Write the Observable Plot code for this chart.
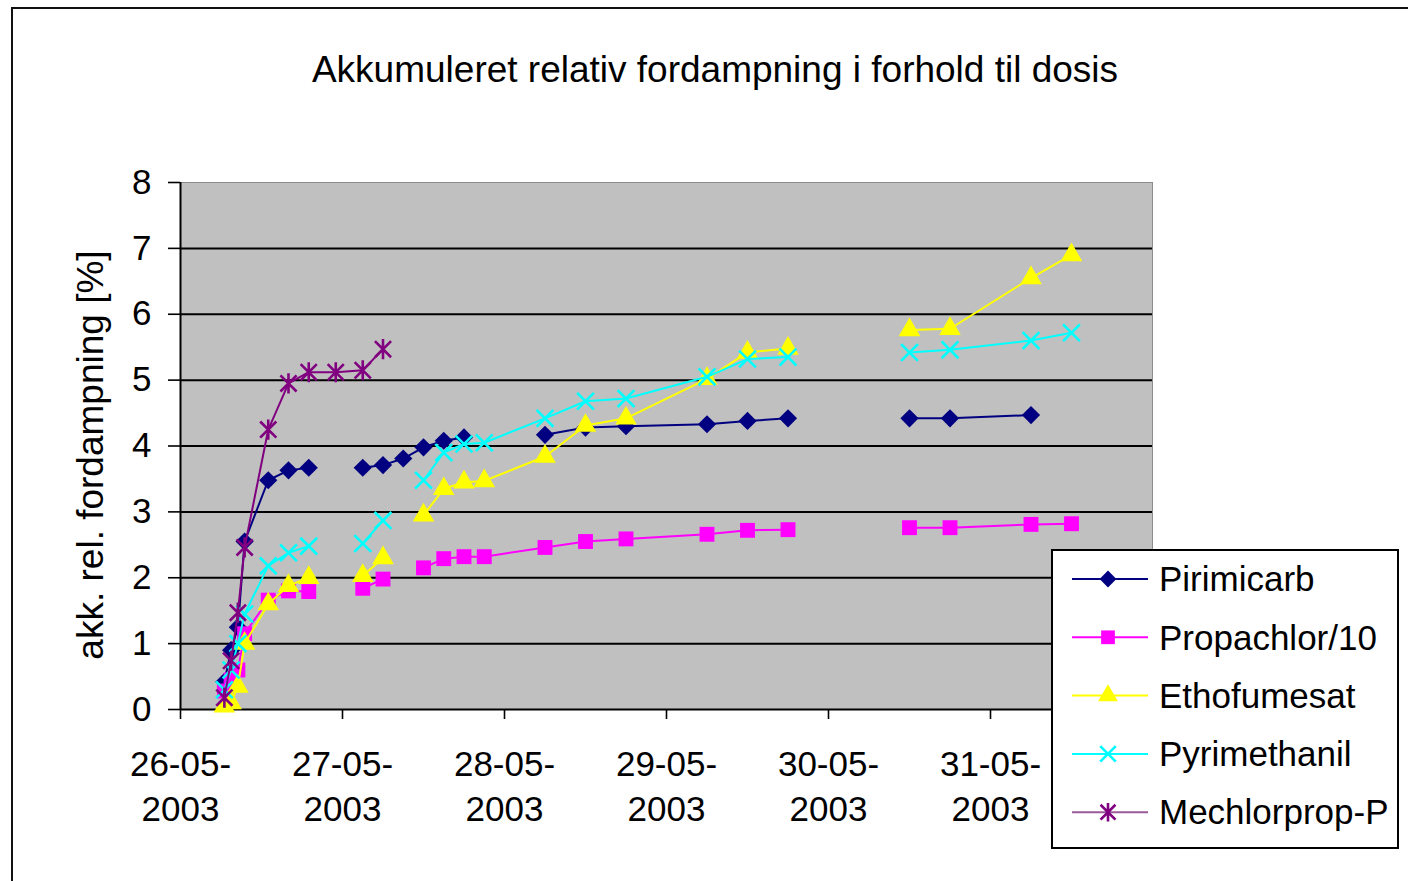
<!DOCTYPE html>
<html>
<head>
<meta charset="utf-8">
<script src="https://cdn.jsdelivr.net/npm/d3@7"></script>
<script src="https://cdn.jsdelivr.net/npm/@observablehq/plot@0.6"></script>
<style>
html,body{margin:0;padding:0;background:#fff;overflow:hidden;}
body{width:1408px;height:881px;position:relative;font-family:"Liberation Sans",Arial,sans-serif;color:#000;}
#border{position:absolute;left:11px;top:7px;width:1420px;height:900px;border:2px solid #111;box-sizing:border-box;}
#chart{position:absolute;left:0;top:0;}
#title{position:absolute;left:0;width:1430px;top:51px;text-align:center;font-size:37px;line-height:1;white-space:nowrap;}
#ylabel{position:absolute;left:90px;top:455px;transform:translate(-50%,-50%) rotate(-90deg);font-size:37px;line-height:1;white-space:nowrap;}
#legend{position:absolute;left:1051px;top:549px;}
</style>
</head>
<body>
<div id="border"></div>
<div id="chart"></div>
<div id="title">Akkumuleret relativ fordampning i forhold til dosis</div>
<div id="ylabel">akk. rel. fordampning [%]</div>
<div id="legend"></div>
<script>
// ---------- data ----------
const seriesNames = ["Pirimicarb", "Propachlor/10", "Ethofumesat", "Pyrimethanil", "Mechlorprop-P"];
// hours after 26-05-2003 00:00
const hours = [6.5, 7.5, 8.5, 9.5, 13, 16, 19, 23, 27, 30, 33, 36, 39, 42, 45, 54, 60, 66, 78, 84, 90, 99, 108, 114, 126, 132];
const pirimicarb   = [0.42, 0.9, 1.25, 2.55, 3.48, 3.63, 3.67, null, 3.67, 3.71, 3.81, 3.98, 4.08, 4.13, null, 4.17, 4.28, 4.3, 4.33, 4.38, 4.42, null, 4.42, 4.42, 4.47, null];
const propachlor   = [0.28, 0.45, 0.6, 1.15, 1.66, 1.8, 1.79, null, 1.84, 1.98, null, 2.15, 2.29, 2.32, 2.32, 2.46, 2.55, 2.59, 2.66, 2.72, 2.73, null, 2.76, 2.76, 2.81, 2.82];
const ethofumesat  = [0.05, 0.1, 0.35, 1.0, 1.6, 1.88, 2.0, null, 2.03, 2.3, null, 2.95, 3.35, 3.45, 3.47, 3.84, 4.31, 4.42, 5.02, 5.42, 5.48, null, 5.76, 5.78, 6.55, 6.9];
const pyrimethanil = [0.3, 0.6, 1.0, 1.45, 2.18, 2.38, 2.48, null, 2.52, 2.87, null, 3.48, 3.9, 4.03, 4.05, 4.42, 4.68, 4.72, 5.05, 5.32, 5.35, null, 5.42, 5.46, 5.6, 5.72];
const mechlorprop  = [0.18, 0.74, 1.47, 2.46, 4.25, 4.95, 5.12, 5.12, 5.15, 5.47, null, null, null, null, null, null, null, null, null, null, null, null, null, null, null, null];
const yTicks = [0, 1, 2, 3, 4, 5, 6, 7, 8];
const gridValues = [1, 2, 3, 4, 5, 6, 7];
const dayTicks = ["2003-05-26", "2003-05-27", "2003-05-28", "2003-05-29", "2003-05-30", "2003-05-31"];
const xStart = "2003-05-26", xEnd = "2003-06-01";

// ---------- styles ----------
const seriesColors = ["#000080", "#ff00ff", "#ffff00", "#00ffff", "#800080"];
const legendLineColors = ["#000080", "#ff00ff", "#ffff00", "#00ffff", "#9a5a9a"];
const star = {draw(ctx, size) {
  const r = Math.sqrt(size / Math.PI) * 0.95;
  ctx.moveTo(-r, -r); ctx.lineTo(r, r);
  ctx.moveTo(r, -r); ctx.lineTo(-r, r);
  ctx.moveTo(0, -r * 1.25); ctx.lineTo(0, r * 1.25);
}};
const cross = {draw(ctx, size) {
  const r = Math.sqrt(size / Math.PI) * 1.05;
  ctx.moveTo(-r, -r); ctx.lineTo(r, r);
  ctx.moveTo(r, -r); ctx.lineTo(-r, r);
}};
const seriesSymbols = [d3.symbolDiamond2, d3.symbolSquare, d3.symbolTriangle, cross, star];
const symbolFilled = [true, true, true, false, false];
const symbolR = [8.2, 8.4, 8.0, 8.0, 8.5];

const base = Date.UTC(2003, 4, 26);
const values = [pirimicarb, propachlor, ethofumesat, pyrimethanil, mechlorprop];
const rows = [];
values.forEach((arr, si) => arr.forEach((v, i) => rows.push({series: seriesNames[si], t: new Date(base + hours[i] * 3600e3), v})));

const marks = [
  Plot.frame({fill: "#c0c0c0", stroke: "#8c8c8c", strokeWidth: 1}),
  Plot.ruleY(gridValues, {stroke: "#000", strokeWidth: 2}),
  Plot.ruleX([new Date(xStart)], {stroke: "#000", strokeWidth: 2}),
  Plot.ruleY([0], {stroke: "#000", strokeWidth: 2}),
  Plot.axisY(yTicks, {tickSize: 12, tickPadding: 17, fontSize: 35, label: null, strokeWidth: 1.6, tickFormat: d => String(d)}),
  Plot.axisX(dayTicks.map(d => new Date(d)), {
    tickSize: 10, tickPadding: 24, fontSize: 35, lineHeight: 1.29, label: null, strokeWidth: 1.6,
    tickFormat: d => d3.utcFormat("%d-%m-")(d) + "\n" + d3.utcFormat("%Y")(d)
  })
];
seriesNames.forEach((name, si) => {
  const data = rows.filter(r => r.series === name);
  marks.push(Plot.line(data, {x: "t", y: "v", stroke: seriesColors[si], strokeWidth: 2}));
  const dotOpts = {x: "t", y: "v", symbol: seriesSymbols[si], r: symbolR[si],
    filter: d => d.v != null};
  if (symbolFilled[si]) { dotOpts.fill = seriesColors[si]; dotOpts.stroke = "none"; }
  else { dotOpts.fill = "none"; dotOpts.stroke = seriesColors[si]; dotOpts.strokeWidth = 2.6; }
  marks.push(Plot.dot(data, dotOpts));
});

const chart = Plot.plot({
  width: 1408, height: 881,
  marginLeft: 180, marginRight: 256, marginTop: 182, marginBottom: 172,
  style: {fontFamily: "'Liberation Sans', Arial, sans-serif", color: "#000", background: "transparent"},
  x: {type: "utc", domain: [new Date(xStart), new Date(xEnd)]},
  y: {domain: [0, 8]},
  marks
});
document.getElementById("chart").appendChild(chart);

// ---------- legend ----------
const lw = 348, lh = 300;
const svg = d3.select("#legend").append("svg").attr("width", lw).attr("height", lh)
  .style("font-family", "'Liberation Sans', Arial, sans-serif");
svg.append("rect").attr("x", 1).attr("y", 1).attr("width", lw - 2).attr("height", lh - 2)
  .attr("fill", "#fff").attr("stroke", "#000").attr("stroke-width", 2);
seriesNames.forEach((name, i) => {
  const cy = 30 + i * 58.3;
  const g = svg.append("g").attr("transform", `translate(0,${cy})`);
  g.append("line").attr("x1", 21).attr("x2", 97).attr("y1", 0).attr("y2", 0)
    .attr("stroke", legendLineColors[i]).attr("stroke-width", 2);
  const size = symbolR[i] * symbolR[i] * Math.PI * 0.85;
  const p = g.append("path").attr("transform", "translate(57,0)")
    .attr("d", d3.symbol(seriesSymbols[i], size)());
  if (symbolFilled[i]) p.attr("fill", seriesColors[i]);
  else p.attr("fill", "none").attr("stroke", seriesColors[i]).attr("stroke-width", 2.6);
  g.append("text").attr("x", 108).attr("y", 0).attr("dy", "0.35em")
    .attr("font-size", 35).attr("fill", "#000").text(name);
});
</script>
</body>
</html>
